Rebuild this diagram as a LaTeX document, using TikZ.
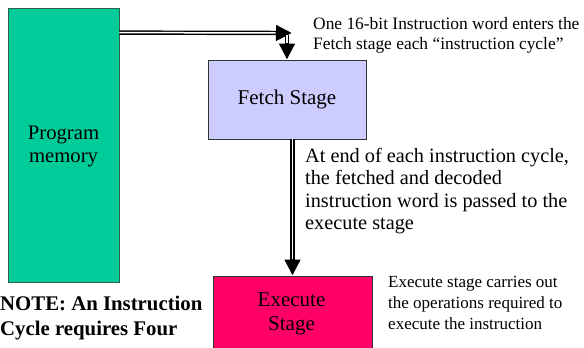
\documentclass[tikz,border=0pt]{standalone}
\usepackage{fontspec}
\setmainfont{Liberation Serif}
\usepackage{tikz}
\usetikzlibrary{positioning, arrows.meta}
\definecolor{memgreen}{HTML}{00CC99}
\definecolor{memedge}{HTML}{2E5E4E}
\definecolor{fetchfill}{HTML}{CCCCFF}
\definecolor{execfill}{HTML}{FF0066}

\begin{document}
\begin{tikzpicture}[
  x=1pt, y=-1pt,
  every node/.style={font=\fontsize{20.7}{23}\selectfont},
  stage/.style={draw=black!80, line width=0.8pt, align=center, inner sep=0pt},
  note/.style={align=left, inner sep=0pt, anchor=west},
  arrow/.style={line width=4.4pt, -{Triangle[length=16pt, width=15pt]},
    postaction={draw=white, line width=1.5pt, -, shorten >=16.5pt}}
]
  \clip (0,0) rectangle (584,348);

  \node[stage, draw=memedge, fill=memgreen, minimum width=111pt, minimum height=274pt] (mem) at (63.5,145) {};
  \node[align=center, inner sep=0pt] (memtext) at (63.5,146) {Program\\memory};
  \node[stage, fill=fetchfill, minimum width=158pt, minimum height=79pt,
    font=\fontsize{21}{24}\selectfont] (fetch) at (287,99.5) {Fetch Stage};
  \node[stage, fill=execfill, minimum width=159pt, minimum height=80pt] (exec) at (292.5,316) {};
  \node[align=center, inner sep=0pt, font=\fontsize{21}{24}\selectfont] (exectext) at (291.5,314) {Execute\\Stage};

  \node[note, font=\fontsize{17.4}{20}\selectfont] (topnote) at (313,35)
    {One 16-bit Instruction word enters the\\Fetch stage each ``instruction cycle''};
  \node[note, font=\fontsize{20.3}{22.5}\selectfont] (midnote) at (305,191)
    {At end of each instruction cycle,\\the fetched and decoded\\instruction word is passed to the\\execute stage};
  \node[note, font=\fontsize{17}{21}\selectfont] (execnote) at (388,303)
    {Execute stage carries out\\the operations required to\\execute the instruction};
  \node[note, font=\bfseries\fontsize{20.8}{25}\selectfont] (cyclenote) at (0,318)
    {NOTE: An Instruction\\Cycle requires Four};

  \coordinate (hit) at (292,33);
  \draw[arrow] ([yshift=-25pt]mem.north east) -- (hit);
  \draw[arrow] ([yshift=-2pt]hit -| fetch.north) -- (fetch.north);
  \draw[arrow] (fetch.south -| exec.north) -- (exec.north);
\end{tikzpicture}
\end{document}
